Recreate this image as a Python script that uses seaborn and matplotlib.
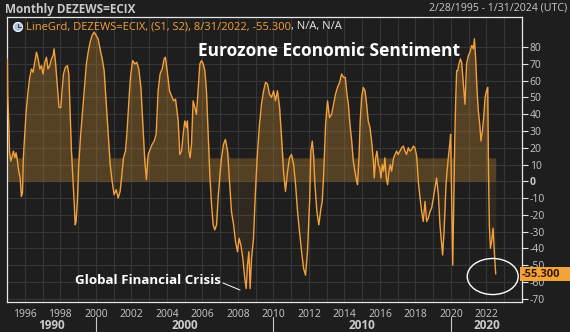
import numpy as np
import matplotlib
matplotlib.use("Agg")
import matplotlib.pyplot as plt
import matplotlib.transforms as mtransforms
from matplotlib.patches import Ellipse, Rectangle
import seaborn as sns

# Monthly ZEW economic sentiment readings (decimal year, index value)
years = [
    1995.02, 1995.04, 1995.10, 1995.14, 1995.21, 1995.29, 1995.36, 1995.44, 1995.51, 1995.59,
    1995.66, 1995.74, 1995.81, 1995.87, 1995.92, 1996.00, 1996.08, 1996.19, 1996.28, 1996.38,
    1996.47, 1996.56, 1996.66, 1996.75, 1996.85, 1996.94, 1997.03, 1997.13, 1997.22, 1997.31,
    1997.41, 1997.50, 1997.60, 1997.65, 1997.73, 1997.84, 1997.93, 1998.03, 1998.10, 1998.18,
    1998.29, 1998.40, 1998.48, 1998.55, 1998.63, 1998.70, 1998.78, 1998.84, 1998.89, 1998.97,
    1999.04, 1999.15, 1999.27, 1999.38, 1999.47, 1999.57, 1999.68, 1999.79, 1999.91, 2000.02,
    2000.13, 2000.24, 2000.36, 2000.47, 2000.58, 2000.69, 2000.81, 2000.92, 2001.03, 2001.15,
    2001.26, 2001.37, 2001.45, 2001.56, 2001.67, 2001.75, 2001.82, 2001.90, 2001.97, 2002.08,
    2002.20, 2002.31, 2002.42, 2002.54, 2002.65, 2002.76, 2002.85, 2002.95, 2003.06, 2003.17,
    2003.29, 2003.40, 2003.51, 2003.62, 2003.74, 2003.85, 2003.92, 2004.04, 2004.15, 2004.26,
    2004.38, 2004.49, 2004.64, 2004.73, 2004.83, 2004.92, 2005.01, 2005.11, 2005.16, 2005.24,
    2005.31, 2005.39, 2005.48, 2005.58, 2005.67, 2005.76, 2005.86, 2005.95, 2006.05, 2006.14,
    2006.23, 2006.33, 2006.42, 2006.52, 2006.61, 2006.70, 2006.80, 2006.89, 2006.99, 2007.08,
    2007.19, 2007.30, 2007.42, 2007.53, 2007.64, 2007.76, 2007.87, 2007.98, 2008.07, 2008.17,
    2008.28, 2008.39, 2008.47, 2008.54, 2008.62, 2008.69, 2008.77, 2008.88, 2008.99, 2009.11,
    2009.22, 2009.33, 2009.45, 2009.56, 2009.67, 2009.78, 2009.90, 2010.01, 2010.12, 2010.23,
    2010.35, 2010.46, 2010.57, 2010.68, 2010.80, 2010.91, 2011.02, 2011.14, 2011.25, 2011.36,
    2011.47, 2011.59, 2011.70, 2011.81, 2011.92, 2012.04, 2012.11, 2012.19, 2012.26, 2012.34,
    2012.45, 2012.56, 2012.68, 2012.75, 2012.83, 2012.94, 2013.05, 2013.16, 2013.28, 2013.39,
    2013.50, 2013.61, 2013.73, 2013.84, 2013.95, 2014.05, 2014.14, 2014.22, 2014.31, 2014.41,
    2014.50, 2014.59, 2014.69, 2014.74, 2014.82, 2014.89, 2014.97, 2015.06, 2015.16, 2015.25,
    2015.34, 2015.44, 2015.53, 2015.63, 2015.68, 2015.76, 2015.83, 2015.91, 2015.98, 2016.06,
    2016.13, 2016.21, 2016.28, 2016.36, 2016.43, 2016.51, 2016.58, 2016.66, 2016.77, 2016.85,
    2016.94, 2017.03, 2017.13, 2017.22, 2017.32, 2017.41, 2017.50, 2017.60, 2017.69, 2017.79,
    2017.88, 2017.97, 2018.07, 2018.16, 2018.26, 2018.35, 2018.44, 2018.54, 2018.63, 2018.72,
    2018.82, 2018.91, 2019.01, 2019.10, 2019.19, 2019.29, 2019.38, 2019.48, 2019.53, 2019.61,
    2019.66, 2019.72, 2019.78, 2019.85, 2019.93, 2019.98, 2020.04, 2020.10, 2020.15, 2020.21,
    2020.26, 2020.32, 2020.38, 2020.45, 2020.53, 2020.60, 2020.70, 2020.79, 2020.88, 2020.98,
    2021.07, 2021.17, 2021.26, 2021.32, 2021.39, 2021.47, 2021.54, 2021.62, 2021.69, 2021.77,
    2021.84, 2021.92, 2022.00, 2022.07, 2022.11, 2022.16, 2022.22, 2022.29, 2022.37, 2022.44,
    2022.52,
]
values = [
    73, 51, 34, 18, 12, 15, 18, 14, 17, 12,
    6, 2, -9, -7, 14, 28, 42, 54, 62, 67,
    65, 71, 77, 73, 67, 69, 64, 71, 74, 67,
    69, 73, 75, 79, 71, 56, 44, 44, 54, 64,
    68, 69, 64, 42, 18, 4, -12, -26, -24, -10,
    10, 28, 44, 58, 70, 77, 83, 87, 89, 87,
    85, 79, 73, 66, 48, 30, 10, 0, -8, -5,
    -10, -6, 2, 14, 18, 28, 40, 54, 64, 72,
    70, 71, 67, 56, 34, 12, 1, 16, 19, 22,
    24, 28, 54, 64, 67, 73, 74, 64, 54, 51,
    48, 49, 36, 16, 18, 28, 36, 32, 36, 18,
    14, 22, 48, 44, 40, 54, 70, 72, 70, 66,
    54, 28, 4, -14, -26, -29, -26, -10, 4, 14,
    22, 25, 18, 0, -18, -26, -36, -42, -34, -38,
    -46, -58, -64, -50, -42, -64, -46, -34, -6, 18,
    34, 46, 54, 59, 58, 52, 50, 54, 48, 54,
    44, 26, 6, -6, 6, 14, 16, 10, -2, -18,
    -30, -42, -52, -56, -42, -12, 18, 24, 16, -2,
    -18, -26, -16, -12, 4, 34, 48, 38, 40, 46,
    52, 56, 59, 64, 62, 62, 52, 46, 34, 24,
    12, 6, 0, -2, 14, 36, 50, 56, 54, 46,
    36, 32, 24, 12, 2, 14, 18, 10, 8, 2,
    10, 6, 14, 2, -2, 6, 10, 6, 14, 16,
    18, 16, 18, 20, 21, 18, 16, 20, 18, 19,
    21, 20, 15, 0, -10, -18, -24, -12, -24, -22,
    -18, -16, -10, -4, 2, -8, -26, -38, -44, -30,
    -18, -2, 6, 14, 22, 28, -10, -50, -18, 22,
    46, 66, 66, 70, 73, 71, 58, 46, 70, 75,
    77, 81, 79, 85, 73, 54, 42, 34, 24, 30,
    38, 50, 54, 56, 10, -26, -40, -36, -28, -42,
    -55.3,
]

x_ticks = list(range(1996, 2023, 2))
y_ticks = list(range(-70, 81, 10))
decade_labels = ["1990", "2000", "2010", "2020"]
decade_centers = [1997.5, 2005.0, 2015.0, 2022.0]
decade_breaks = [2000, 2010, 2020]

title_left = "Monthly DEZEWS=ECIX"
title_right = "2/28/1995 - 1/31/2024 (UTC)"
legend_main = "LineGrd, DEZEWS=ECIX, (S1, S2), 8/31/2022, -55.300"
legend_tail = ", N/A, N/A"
chart_title = "Eurozone Economic Sentiment"
callout = "Global Financial Crisis"
last_value = values[-1]

BG = "#1e1e1e"
GRID = "#363636"
LINE = "#f3a13c"
FILL = "#c98a30"
TEXT = "#c9c9c9"
FRAME = "#e6e6e6"

sns.set_theme(style="dark")
plt.rcParams["font.family"] = ["Open Sans", "DejaVu Sans"]

W, H = 570, 332
fig = plt.figure(figsize=(W / 100, H / 100), dpi=100, facecolor=BG)
ax = fig.add_axes([7 / W, 30 / H, 515 / W, 285 / H])
ax.set_facecolor(BG)

x = np.asarray(years)
y = np.asarray(values, dtype=float)

# shaded area: band just above zero merged with the area under positive values,
# faint shading for the negative excursions
ax.fill_between(x, 0, np.maximum(y, 14), color=FILL, alpha=0.32, lw=0, zorder=1)
ax.fill_between(x, np.minimum(y, 0), 0, color=FILL, alpha=0.10, lw=0, zorder=1)
sns.lineplot(x=x, y=y, ax=ax, color=LINE, lw=1.0, zorder=3, estimator=None)

ax.set_xlim(1995.0, 2024.0)
ax.set_ylim(-72, 98)

# grid: yearly verticals, every 10 points horizontally
ax.set_xticks(x_ticks)
ax.set_xticks(list(range(1995, 2024)), minor=True)
ax.set_yticks(y_ticks)
ax.grid(True, which="both", axis="x", color=GRID, lw=0.8, zorder=0)
ax.grid(True, which="major", axis="y", color=GRID, lw=0.8, zorder=0)

ax.yaxis.tick_right()
ax.tick_params(axis="y", which="major", direction="out", length=4, width=0.8,
               color=FRAME, labelcolor=TEXT, labelsize=7.5, pad=1.5)
ax.tick_params(axis="x", which="major", direction="out", length=3, width=0.8,
               color=TEXT, labelcolor=TEXT, labelsize=7.5, pad=2)
ax.tick_params(axis="x", which="minor", length=0)
ax.set_xticklabels([str(t) for t in x_ticks])
ax.set_yticklabels([str(t) for t in y_ticks])
for lab in ax.get_yticklabels():
    if lab.get_text() == "0":
        lab.set_fontweight("bold")
ax.set_xlabel("")
ax.set_ylabel("")

for side in ["left", "right", "top", "bottom"]:
    ax.spines[side].set_color(FRAME)
    ax.spines[side].set_linewidth(0.9)

# decade row under the year labels
tr_xa = mtransforms.blended_transform_factory(ax.transData, ax.transAxes)
for lab, c in zip(decade_labels, decade_centers):
    ax.text(c, -0.081, lab, transform=tr_xa, ha="center", va="center",
            color=TEXT, fontsize=8.5, fontweight="bold", clip_on=False)
for b in decade_breaks:
    ax.plot([b, b], [-0.053, -0.11], transform=tr_xa, color=TEXT, lw=0.8,
            clip_on=False)

# circled latest reading
ax.add_patch(Ellipse((2022.35, -56.8), 2.87, 21.5, fill=False, ec="white",
                     lw=1.0, zorder=4))

# latest value tag on the right axis
tr_fd = mtransforms.blended_transform_factory(fig.transFigure, ax.transData)
ax.add_patch(Rectangle((520 / W, last_value - 4.0), 50 / W, 8.0, transform=tr_fd,
                       fc="#f2a33a", ec="none", clip_on=False, zorder=6))
ax.text(522 / W, last_value, f"{last_value:.3f}", transform=tr_fd, ha="left",
        va="center", color="#3a1800", fontsize=8, fontweight="bold",
        clip_on=False, zorder=7)

# annotations
fig.text(198 / W, 1 - 51 / H, chart_title, ha="left", va="center",
         color="white", fontsize=12.5, fontweight="bold")
fig.text(75 / W, 1 - 280 / H, callout, ha="left", va="center",
         color="white", fontsize=9.6, fontweight="bold")
fig.add_artist(plt.Line2D([223 / W, 240 / W], [1 - 283 / H, 1 - 290 / H],
                          color="white", lw=0.7))

# header
fig.text(5 / W, 1 - 9 / H, title_left, ha="left", va="center",
         color=TEXT, fontsize=8.5, fontweight="bold")
fig.text(567 / W, 1 - 8 / H, title_right, ha="right", va="center",
         color=TEXT, fontsize=7.6)

# legend line with clock icon
fig.add_artist(Ellipse((18 / W, 1 - 27 / H), 9 / W, 9 / H, transform=fig.transFigure,
                       fc="#a9c0dc", ec="white", lw=0.8))
fig.add_artist(plt.Line2D([18 / W, 18 / W], [1 - 27 / H, 1 - 24 / H], color="#334", lw=0.7))
fig.add_artist(plt.Line2D([18 / W, 20.5 / W], [1 - 27 / H, 1 - 27 / H], color="#334", lw=0.7))
t1 = fig.text(26 / W, 1 - 27 / H, legend_main, ha="left", va="center",
              color=LINE, fontsize=8.0)
fig.canvas.draw()
bb = t1.get_window_extent()
fig.text(bb.x1 / W, 1 - 27 / H, legend_tail, ha="left", va="center",
         color="#e8e8e8", fontsize=8.0)

fig.savefig("out.png", dpi=100, facecolor=BG)
